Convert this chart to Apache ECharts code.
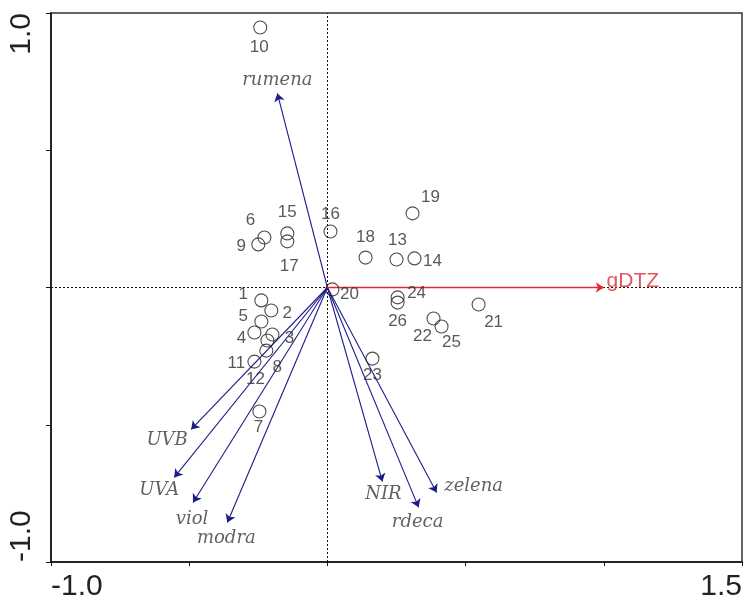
<!DOCTYPE html>
<html>
<head>
<meta charset="utf-8">
<script src="https://cdn.jsdelivr.net/npm/echarts@6/dist/echarts.min.js"></script>
<style>
  html, body { margin: 0; padding: 0; background: #ffffff; }
  #chart { width: 744px; height: 596px; }
</style>
</head>
<body>
<div id="chart"></div>
<script>
// Sample scores (ordination axis 1 / axis 2)
const sampleIds = ['1','2','3','4','5','6','7','8','9','10','11','12','13',
                   '14','15','16','17','18','19','20','21','22','23','24','25','26'];
const sampleX = [-0.239,-0.203,-0.199,-0.264,-0.239,-0.228,-0.246,-0.221,-0.250,-0.243,-0.264,-0.217, 0.250,
                  0.315,-0.145, 0.011,-0.145, 0.138, 0.308, 0.018, 0.547, 0.384, 0.163, 0.254, 0.413, 0.254];
const sampleY = [-0.047,-0.084,-0.171,-0.164,-0.124, 0.182,-0.452,-0.230, 0.157, 0.947,-0.270,-0.193, 0.102,
                  0.106, 0.197, 0.204, 0.168, 0.109, 0.270,-0.007,-0.062,-0.113,-0.259,-0.036,-0.142,-0.055];

// Explanatory variables (arrow tips)
const varNames = ['rumena','UVB','UVA','viol','modra','NIR','rdeca','zelena'];
const varX = [-0.181,-0.493,-0.554,-0.486,-0.362, 0.199, 0.330, 0.395];
const varY = [ 0.707,-0.517,-0.692,-0.783,-0.856,-0.707,-0.801,-0.747];

// Response variable
const respNames = ['gDTZ'];
const respX = [1.0];
const respY = [0.0];

// Axis ranges and the tick values that carry a label
const xRange = [-1.0, 1.5];
const yRange = [-1.0, 1.0];
const tickStep = 0.5;
const xLabelValues = [-1.0, 1.5];
const yLabelValues = [-1.0, 1.0];

// Label placement (pixel offsets from the mark)
const sampleLabelOffset = {
  '1':[-18,-6], '2':[16,3], '3':[17,4], '4':[-13,6], '5':[-18,-5], '6':[-14,-17],
  '7':[-1,16], '8':[11,17], '9':[-17,2], '10':[-1,20], '11':[-18,2], '12':[-12,39],
  '13':[1,-19], '14':[18,3], '15':[0,-21], '16':[0,-17], '17':[2,25], '18':[0,-20],
  '19':[18,-16], '20':[17,5], '21':[15,18], '22':[-11,18], '23':[0,17], '24':[19,-4],
  '25':[10,16], '26':[0,19]
};
const varLabelOffset = {
  rumena:[0,-13], UVB:[-24,11], UVA:[-15,13], viol:[-1,17], modra:[-1,16],
  NIR:[1,13], rdeca:[-1,15], zelena:[37,-6]
};
const respLabelOffset = { gDTZ:[29,-6] };

const ARROW_BLUE = '#1c1c8a';
const ARROW_RED = '#e02a34';
const TEXT = '#2e2e2e';

const chart = echarts.init(document.getElementById('chart'), null, { renderer: 'canvas' });

const fmt = (vals) => (v) => vals.some(t => Math.abs(t - v) < 1e-9) ? v.toFixed(1) : '';

// all arrows share one lines series; the response arrow gets its own colour
const arrowData = varNames.map((n, i) => ({ coords: [[0, 0], [varX[i], varY[i]]] }))
  .concat(respNames.map((n, i) => ({
    coords: [[0, 0], [respX[i], respY[i]]],
    lineStyle: { color: ARROW_RED, width: 1.3 },
    itemStyle: { color: ARROW_RED }
  })));

const option = {
  animation: false,
  backgroundColor: '#ffffff',
  grid: {
    left: 51, right: 2, top: 13, bottom: 34,
    containLabel: false,
    outerBoundsMode: 'none',
    show: true, borderColor: '#333', borderWidth: 1.5, backgroundColor: 'transparent'
  },
  xAxis: {
    type: 'value', min: xRange[0], max: xRange[1], interval: tickStep,
    axisLine: { show: true, onZero: false, lineStyle: { color: '#111', width: 1.5 } },
    axisTick: { show: true, length: 4, lineStyle: { color: '#111' } },
    splitLine: { show: false },
    axisLabel: {
      formatter: fmt(xLabelValues), fontFamily: 'Liberation Sans, Arial, sans-serif',
      fontSize: 30, color: '#222', margin: 10,
      alignMinLabel: 'left', alignMaxLabel: 'right', hideOverlap: false
    }
  },
  yAxis: {
    type: 'value', min: yRange[0], max: yRange[1], interval: tickStep,
    axisLine: { show: true, onZero: false, lineStyle: { color: '#111', width: 1.5 } },
    axisTick: { show: true, length: 5, lineStyle: { color: '#111' } },
    splitLine: { show: false },
    axisLabel: {
      formatter: fmt(yLabelValues), rotate: 90, fontFamily: 'Liberation Sans, Arial, sans-serif',
      fontSize: 30, color: '#222', margin: 14,
      alignMinLabel: 'left', alignMaxLabel: 'right', hideOverlap: false
    }
  },
  series: [
    {
      // dotted zero lines through the origin
      type: 'lines', coordinateSystem: 'cartesian2d', silent: true, z: 1,
      lineStyle: { color: '#111', width: 1, type: [2, 2], opacity: 1 },
      data: [
        { coords: [[0, yRange[0]], [0, yRange[1]]] },
        { coords: [[xRange[0], 0], [xRange[1], 0]] }
      ]
    },
    {
      // variable arrows
      type: 'lines', coordinateSystem: 'cartesian2d', silent: true, z: 3,
      symbol: ['none', 'arrow'], symbolSize: 8,
      lineStyle: { color: ARROW_BLUE, width: 1.1, opacity: 1 },
      data: arrowData
    },
    {
      // sample points
      type: 'scatter', z: 4, symbol: 'circle', symbolSize: 13,
      itemStyle: { color: 'rgba(255,255,255,0)', borderColor: '#222', borderWidth: 1.1 },
      data: sampleIds.map((id, i) => ({
        name: id, value: [sampleX[i], sampleY[i]],
        label: { offset: sampleLabelOffset[id] }
      })),
      label: {
        show: true, position: 'inside', formatter: '{b}',
        fontFamily: 'Liberation Sans, Arial, sans-serif', fontSize: 17, color: TEXT,
        align: 'center', verticalAlign: 'middle'
      }
    },
    {
      // arrow labels
      type: 'scatter', z: 5, symbolSize: 0, silent: true,
      data: varNames.map((n, i) => ({
        name: n, value: [varX[i], varY[i]],
        label: { offset: varLabelOffset[n] }
      })),
      label: {
        show: true, position: 'inside', formatter: '{b}',
        fontFamily: 'DejaVu Serif, serif', fontStyle: 'italic', fontSize: 18, color: '#3a3a3a',
        align: 'center', verticalAlign: 'middle'
      }
    },
    {
      type: 'scatter', z: 5, symbolSize: 0, silent: true,
      data: respNames.map((n, i) => ({
        name: n, value: [respX[i], respY[i]],
        label: { offset: respLabelOffset[n] }
      })),
      label: {
        show: true, position: 'inside', formatter: '{b}',
        fontFamily: 'Liberation Sans, Arial, sans-serif', fontSize: 21, color: ARROW_RED,
        align: 'center', verticalAlign: 'middle'
      }
    }
  ]
};

chart.setOption(option);
</script>
</body>
</html>
